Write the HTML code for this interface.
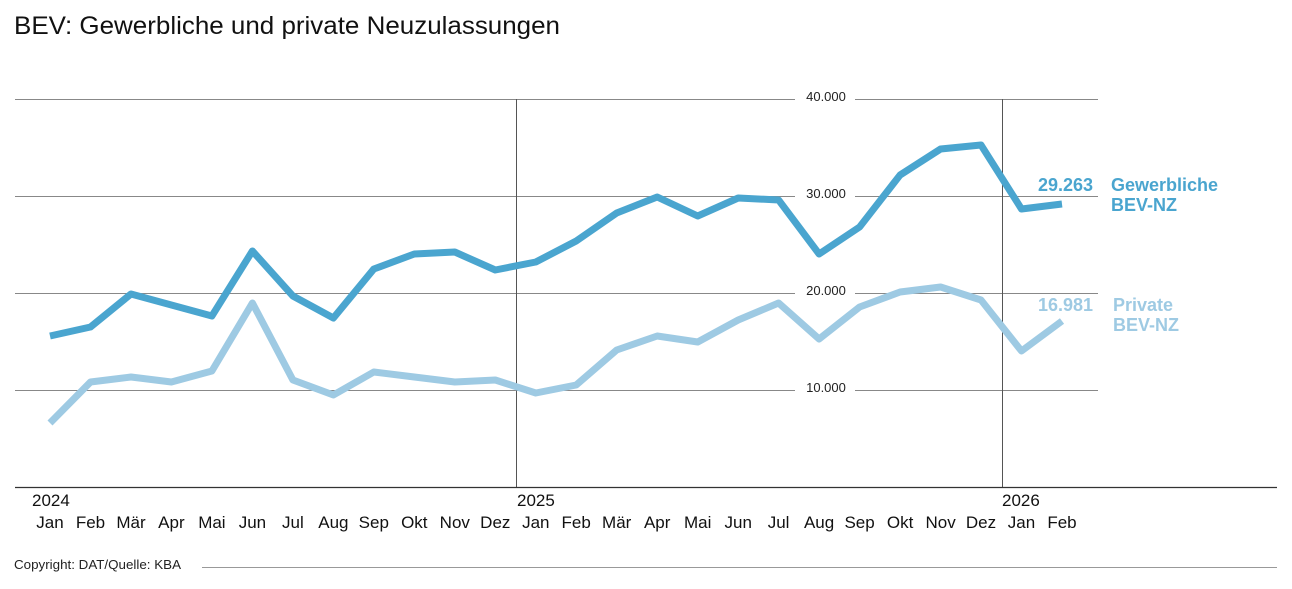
<!DOCTYPE html>
<html><head><meta charset="utf-8"><style>
html,body{margin:0;padding:0;background:#fff;width:1292px;height:589px;overflow:hidden}
text{font-family:"Liberation Sans",sans-serif}
</style></head><body>
<svg id="s" width="1292" height="589" xmlns="http://www.w3.org/2000/svg">
<text x="14" y="34" font-size="25" fill="#111" textLength="546" lengthAdjust="spacingAndGlyphs">BEV: Gewerbliche und private Neuzulassungen</text>
<g stroke="#888" stroke-width="1">
<line x1="15" y1="99.5" x2="795" y2="99.5"/><line x1="855" y1="99.5" x2="1098" y2="99.5"/>
<line x1="15" y1="196.5" x2="795" y2="196.5"/><line x1="855" y1="196.5" x2="1098" y2="196.5"/>
<line x1="15" y1="293.5" x2="795" y2="293.5"/><line x1="855" y1="293.5" x2="1098" y2="293.5"/>
<line x1="15" y1="390.5" x2="795" y2="390.5"/><line x1="855" y1="390.5" x2="1098" y2="390.5"/>
</g>
<g stroke="#555" stroke-width="1">
<line x1="516.5" y1="99" x2="516.5" y2="487"/>
<line x1="1002.5" y1="99" x2="1002.5" y2="487"/>
</g>
<line x1="15" y1="487.5" x2="1277" y2="487.5" stroke="#333" stroke-width="1.2"/>
<g font-size="13" fill="#222" text-anchor="middle">
<text x="826" y="101">40.000</text><text x="826" y="198">30.000</text>
<text x="826" y="295">20.000</text><text x="826" y="392">10.000</text>
</g>
<g id="lines"></g>
<g font-weight="bold" font-size="18">
<text x="1093" y="191" text-anchor="end" fill="#4aa5cf">29.263</text>
<text x="1111" y="191" fill="#4aa5cf">Gewerbliche</text>
<text x="1111" y="211" fill="#4aa5cf">BEV-NZ</text>
<text x="1093" y="311" text-anchor="end" fill="#9ecae3">16.981</text>
<text x="1113" y="311" fill="#9ecae3">Private</text>
<text x="1113" y="331" fill="#9ecae3">BEV-NZ</text>
</g>
<g font-size="17" fill="#111">
<text x="32" y="506">2024</text><text x="517" y="506">2025</text><text x="1002" y="506">2026</text>
</g>
<g id="months" font-size="17" fill="#111" text-anchor="middle"></g>
<text x="14" y="569" font-size="13" fill="#222" textLength="167" lengthAdjust="spacingAndGlyphs">Copyright: DAT/Quelle: KBA</text>
<line x1="202" y1="567.5" x2="1277" y2="567.5" stroke="#999" stroke-width="1"/>
</svg>
<script>
var d=[336,327,294,305,316,251,296,318,269,254,252,270,262,241,213,197,216,198,200,254,227,175,149,145,209,204];
var l=[423,382,377,382,371,303,380,395,372,377,382,380,393,385,350,336,342,320,303,339,307,292,287,300,351,321];
var m=["Jan","Feb","Mär","Apr","Mai","Jun","Jul","Aug","Sep","Okt","Nov","Dez"];
function x(i){return 50+i*40.48;}
function pts(a){return a.map(function(v,i){return x(i).toFixed(1)+","+v}).join(" ");}
var ns="http://www.w3.org/2000/svg";
document.getElementById("lines").innerHTML='<polyline points="'+pts(l)+'" fill="none" stroke="#9ecae3" stroke-width="7" stroke-linejoin="round"/><polyline points="'+pts(d)+'" fill="none" stroke="#4aa5cf" stroke-width="7" stroke-linejoin="round"/>';
var h="";for(var i=0;i<26;i++){h+='<text x="'+x(i).toFixed(1)+'" y="528">'+m[i%12]+'</text>';}
document.getElementById("months").innerHTML=h;
</script>
</body></html>
